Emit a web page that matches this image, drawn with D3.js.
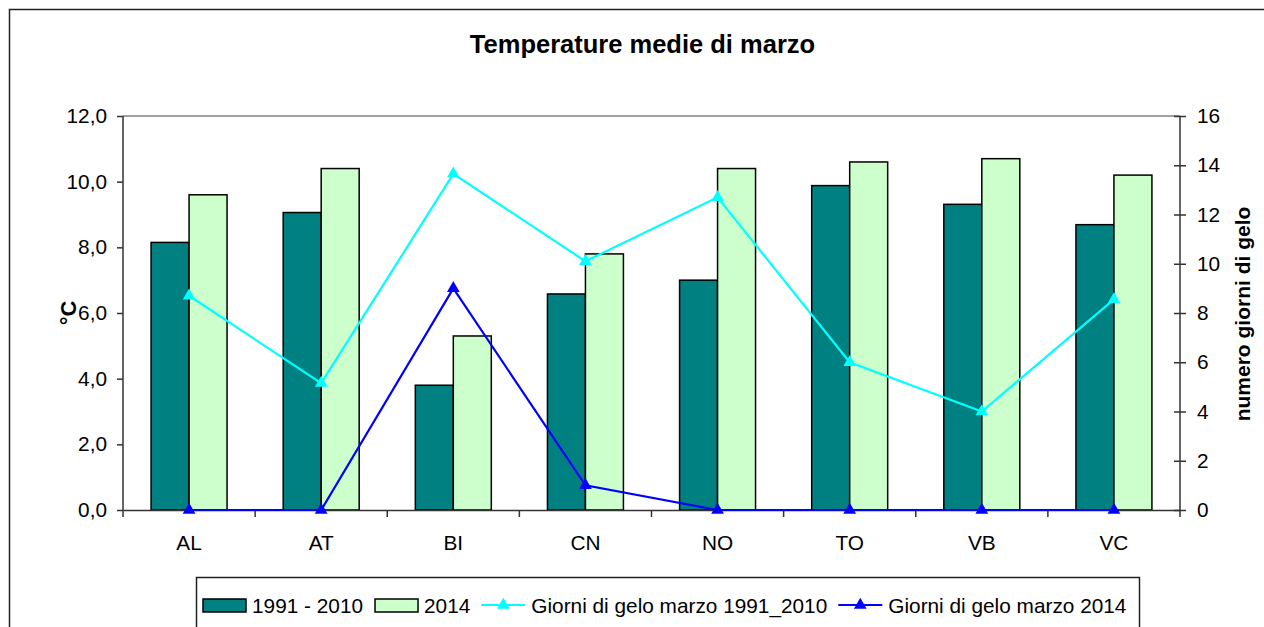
<!DOCTYPE html>
<html><head><meta charset="utf-8">
<script src="https://cdn.jsdelivr.net/npm/d3@7"></script>
<style>
body{margin:0;background:#fff;}
svg{display:block;font-family:"Liberation Sans",Arial,sans-serif;}
</style></head>
<body><svg id="c" width="1264" height="627"></svg>
<script>
const categories = ["AL","AT","BI","CN","NO","TO","VB","VC"];
const temp1991_2010 = [8.15, 9.06, 3.8, 6.58, 7.0, 9.88, 9.31, 8.69];
const temp2014 = [9.6, 10.4, 5.3, 7.8, 10.4, 10.6, 10.7, 10.2];
const gelo1991_2010 = [8.7, 5.15, 13.65, 10.1, 12.7, 6.0, 4.0, 8.55];
const gelo2014 = [0, 0, 9.0, 1.0, 0, 0, 0, 0];
const leftTicks = [0, 2, 4, 6, 8, 10, 12];
const rightTicks = [0, 2, 4, 6, 8, 10, 12, 14, 16];
const barSeries = ["1991 - 2010", "2014"];
const lineSeries = ["Giorni di gelo marzo 1991_2010", "Giorni di gelo marzo 2014"];
const titleText = "Temperature medie di marzo";
const leftTitle = "°C";
const rightTitle = "numero giorni di gelo";

const barColors = ["#008080", "#CCFFCC"];
const lineColors = ["#00FFFF", "#0000FF"];

const FS = 20.8;
const svg = d3.select("#c");
const L = 123, R = 1180, T = 116, B = 510;

// outer frame
svg.append("rect").attr("x", 9.5).attr("y", 9.5).attr("width", 1300).attr("height", 700)
  .attr("fill", "#fff").attr("stroke", "#222").attr("stroke-width", 1.5);

svg.append("text").attr("x", 642.5).attr("y", 53).attr("text-anchor", "middle")
  .attr("font-size", 25.5).attr("font-weight", "bold").text(titleText);

const x0 = d3.scaleBand().domain(categories).range([L, R]).padding(0);
const groupW = x0.bandwidth() * 0.575;
const x1 = d3.scaleBand().domain(barSeries).range([0, groupW]).padding(0);
const yL = d3.scaleLinear().domain([0, 12]).range([B, T]);
const yR = d3.scaleLinear().domain([0, 16]).range([B, T]);
const cx = c => x0(c) + x0.bandwidth() / 2;

// top plot border
svg.append("line").attr("x1", L).attr("x2", R).attr("y1", T).attr("y2", T)
  .attr("stroke", "#808080").attr("stroke-width", 1.5);

// bars
const barData = [temp1991_2010, temp2014];
barSeries.forEach((s, si) => {
  svg.append("g").selectAll("rect").data(categories).join("rect")
    .attr("x", (c) => cx(c) - groupW / 2 + x1(s))
    .attr("y", (c, i) => yL(barData[si][i]))
    .attr("width", x1.bandwidth())
    .attr("height", (c, i) => B - yL(barData[si][i]))
    .attr("fill", barColors[si]).attr("stroke", "#000").attr("stroke-width", 1.5);
});

// left axis
const axL = svg.append("g").attr("transform", `translate(${L},0)`)
  .call(d3.axisLeft(yL).tickValues(leftTicks).tickSize(6).tickSizeOuter(0).tickPadding(10)
    .tickFormat(d => d.toFixed(1).replace(".", ",")));
axL.selectAll("text").attr("font-size", FS).attr("fill", "#000").attr("font-family", "Liberation Sans, Arial, sans-serif");
axL.selectAll("line").attr("stroke", "#333").attr("stroke-width", 1.5);
axL.select(".domain").attr("stroke", "#333").attr("stroke-width", 1.5).attr("d", `M0,${T}V${B + 7}`);

// right axis
const axR = svg.append("g").attr("transform", `translate(${R},0)`)
  .call(d3.axisRight(yR).tickValues(rightTicks).tickSize(6).tickSizeOuter(0).tickPadding(11));
axR.selectAll("text").attr("font-size", FS).attr("fill", "#000").attr("font-family", "Liberation Sans, Arial, sans-serif");
axR.selectAll(".tick line").attr("x1", -6).attr("stroke", "#333").attr("stroke-width", 1.5);
axR.select(".domain").attr("stroke", "#333").attr("stroke-width", 1.5).attr("d", `M0,${T}V${B + 7}`);

// bottom axis
const axB = svg.append("g").attr("transform", `translate(0,${B})`)
  .call(d3.axisBottom(x0).tickSize(0).tickPadding(25).tickSizeOuter(0));
axB.selectAll("text").attr("font-size", FS).attr("fill", "#000").attr("font-family", "Liberation Sans, Arial, sans-serif");
axB.select(".domain").attr("stroke", "#333").attr("stroke-width", 1.5);
axB.selectAll(".bnd").data(categories.slice(1)).join("line").attr("class", "bnd")
  .attr("x1", c => x0(c)).attr("x2", c => x0(c)).attr("y1", 0).attr("y2", 7)
  .attr("stroke", "#333").attr("stroke-width", 1.5);

// axis titles
svg.append("text").attr("transform", `translate(76,313) rotate(-90)`).attr("text-anchor", "middle")
  .attr("font-size", 22).attr("font-weight", "bold").text(leftTitle);
svg.append("text").attr("transform", `translate(1250,314) rotate(-90)`).attr("text-anchor", "middle")
  .attr("font-size", 21).attr("font-weight", "bold").text(rightTitle);

// lines
const lineData = [gelo1991_2010, gelo2014];
const tri = d3.symbol().type(d3.symbolTriangle).size(70);
lineSeries.forEach((s, si) => {
  const line = d3.line().x((d, i) => cx(categories[i])).y(d => yR(d));
  svg.append("path").datum(lineData[si]).attr("d", line).attr("fill", "none")
    .attr("stroke", lineColors[si]).attr("stroke-width", 2.2);
  svg.append("g").selectAll("path").data(lineData[si]).join("path")
    .attr("transform", (d, i) => `translate(${cx(categories[i])},${yR(d)})`)
    .attr("d", tri).attr("fill", lineColors[si]);
});

// legend
const lg = svg.append("g");
lg.append("rect").attr("x", 196.5).attr("y", 577.5).attr("width", 943).attr("height", 80)
  .attr("fill", "#fff").attr("stroke", "#222").attr("stroke-width", 1.5);
let lx = 203;
const ly = 605;
const items = [
  ...barSeries.map((s, i) => ({ name: s, type: "bar", color: barColors[i] })),
  ...lineSeries.map((s, i) => ({ name: s, type: "line", color: lineColors[i] }))
];
items.forEach(it => {
  if (it.type === "bar") {
    lg.append("rect").attr("x", lx).attr("y", ly - 6).attr("width", 43).attr("height", 13)
      .attr("fill", it.color).attr("stroke", "#000").attr("stroke-width", 1.5);
  } else {
    lg.append("line").attr("x1", lx - 1).attr("x2", lx + 43).attr("y1", ly).attr("y2", ly)
      .attr("stroke", it.color).attr("stroke-width", 2.2);
    lg.append("path").attr("transform", `translate(${lx + 21},${ly})`).attr("d", tri).attr("fill", it.color);
  }
  const t = lg.append("text").attr("x", lx + 49).attr("y", ly + 7.5).attr("font-size", FS).text(it.name);
  lx = lx + 49 + t.node().getComputedTextLength() + 12;
});
</script></body></html>
